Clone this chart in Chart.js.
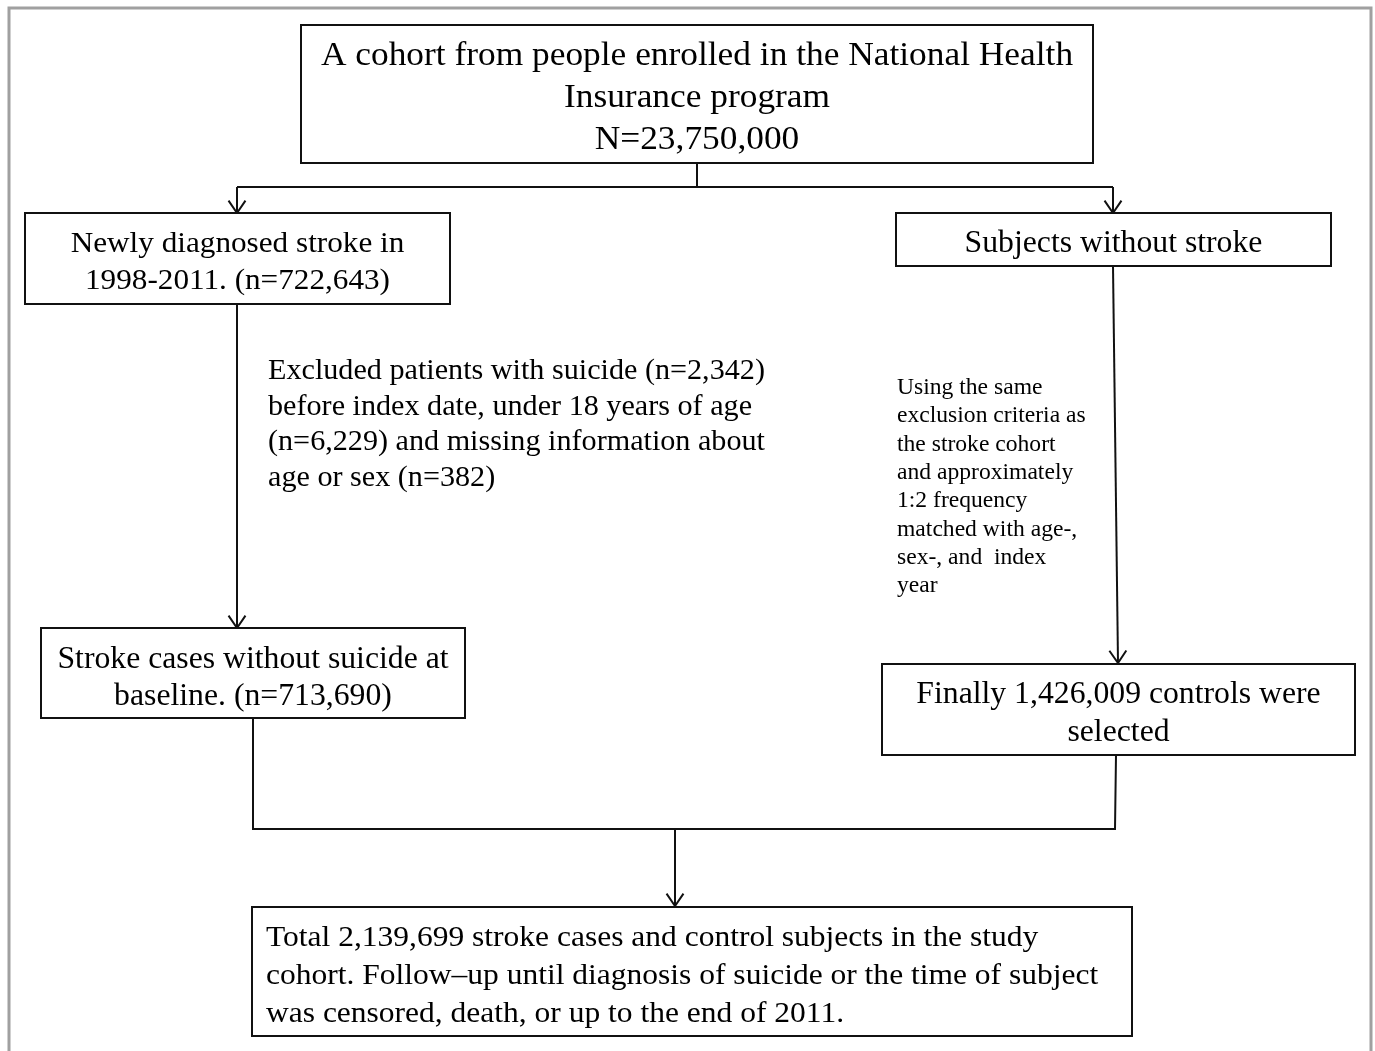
<!DOCTYPE html>
<html>
<head>
<meta charset="utf-8">
<script src="https://cdn.jsdelivr.net/npm/chart.js@4"></script>
<style>
  body { margin: 0; background: #fff; }
  #flow { display: block; }
</style>
</head>
<body>
<canvas id="flow" width="1375" height="1051"></canvas>
<script>
// texto de cada caja del diagrama
const topLines = ["A cohort from people enrolled in the National Health", "Insurance program", "N=23,750,000"];
const strokeLines = ["Newly diagnosed stroke in", "1998-2011. (n=722,643)"];
const noStrokeLines = ["Subjects without stroke"];
const excludeLines = [
  "Excluded patients with suicide (n=2,342)",
  "before index date, under 18 years of age",
  "(n=6,229) and missing information about",
  "age or sex (n=382)",
];
const matchLines = [
  "Using the same",
  "exclusion criteria as",
  "the stroke cohort",
  "and approximately",
  "1:2 frequency",
  "matched with age-,",
  "sex-, and  index",
  "year",
];
const casesLines = ["Stroke cases without suicide at", "baseline. (n=713,690)"];
const controlLines = ["Finally 1,426,009 controls were", "selected"];
const totalLines = [
  "Total 2,139,699 stroke cases and control subjects in the study",
  "cohort. Follow\u2013up until diagnosis of suicide or the time of subject",
  "was censored, death, or up to the end of 2011.",
];

const serif = '"Liberation Serif", "Times New Roman", serif';
const stretchX = 1.04; // el texto original sale algo ensanchado

// layout (coordenadas en unidades del eje, 1 unidad = 1 px); y = línea base de la 1a línea
const boxes = [
  { x0: 301, y0: 25, x1: 1093, y1: 163, lines: topLines, size: 34, align: "center", y: 65, gap: 42 },
  { x0: 25, y0: 213, x1: 450, y1: 304, lines: strokeLines, size: 30, align: "center", y: 252, gap: 37 },
  { x0: 896, y0: 213, x1: 1331, y1: 266, lines: noStrokeLines, size: 30.5, align: "center", y: 252, gap: 37 },
  { x0: 41, y0: 628, x1: 465, y1: 718, lines: casesLines, size: 30.5, align: "center", y: 668, gap: 37 },
  { x0: 882, y0: 664, x1: 1355, y1: 755, lines: controlLines, size: 30.5, align: "center", y: 703, gap: 38 },
  { x0: 252, y0: 907, x1: 1132, y1: 1036, lines: totalLines, size: 30.3, align: "left", tx: 266, y: 946, gap: 38 },
];
const notes = [
  { lines: excludeLines, size: 29, tx: 268, y: 379, gap: 35.7 },
  { lines: matchLines, size: 22.7, tx: 897, y: 394, gap: 28.3 },
];

function seg(points, arrow, color, width) {
  return {
    data: points.map((p) => ({ x: p[0], y: p[1] })),
    showLine: true,
    pointRadius: 0,
    borderColor: color || "#111",
    borderWidth: width || 2,
    arrow: !!arrow,
  };
}

const connectors = [
  seg([[9, 1051], [9, 8], [1371, 8], [1371, 1051]], false, "#a0a0a0", 3),
  seg([[697, 163], [697, 187]]),
  seg([[237, 187], [1113, 187]]),
  seg([[237, 187], [237, 213]], true),
  seg([[1113, 187], [1113, 213]], true),
  seg([[237, 304], [237, 628]], true),
  seg([[1113, 266], [1118, 663]], true),
  seg([[253, 718], [253, 829], [1115, 829], [1116, 755]]),
  seg([[675, 829], [675, 906]], true),
];

const flowPlugin = {
  id: "flowPlugin",
  afterDatasetsDraw(chart) {
    const ctx = chart.ctx;
    const sx = chart.scales.x;
    const sy = chart.scales.y;
    const px = (v) => sx.getPixelForValue(v);
    const py = (v) => sy.getPixelForValue(v);
    ctx.save();

    // puntas de flecha
    chart.data.datasets.forEach((ds) => {
      if (!ds.arrow) return;
      const n = ds.data.length;
      const a = ds.data[n - 2], b = ds.data[n - 1];
      const bx = px(b.x), by = py(b.y);
      const ang = Math.atan2(by - py(a.y), bx - px(a.x));
      const len = 15, spread = 0.6;
      ctx.strokeStyle = "#111";
      ctx.lineWidth = 2;
      ctx.beginPath();
      ctx.moveTo(bx - len * Math.cos(ang - spread), by - len * Math.sin(ang - spread));
      ctx.lineTo(bx, by);
      ctx.lineTo(bx - len * Math.cos(ang + spread), by - len * Math.sin(ang + spread));
      ctx.stroke();
    });

    // cajas
    boxes.forEach((b) => {
      ctx.fillStyle = "#fff";
      ctx.fillRect(px(b.x0), py(b.y0), px(b.x1) - px(b.x0), py(b.y1) - py(b.y0));
      ctx.strokeStyle = "#111";
      ctx.lineWidth = 2;
      ctx.strokeRect(px(b.x0), py(b.y0), px(b.x1) - px(b.x0), py(b.y1) - py(b.y0));
      drawLines(ctx, b, b.align === "center" ? px((b.x0 + b.x1) / 2) : px(b.tx), py);
    });
    notes.forEach((t) => drawLines(ctx, Object.assign({ align: "left" }, t), px(t.tx), py));
    ctx.restore();
  },
};

function drawLines(ctx, b, x, py) {
  ctx.font = b.size + "px " + serif;
  ctx.fillStyle = "#000";
  ctx.textAlign = b.align;
  ctx.textBaseline = "alphabetic";
  b.lines.forEach((line, i) => {
    ctx.save();
    ctx.translate(x, py(b.y + i * b.gap));
    ctx.scale(stretchX, 1);
    ctx.fillText(line, 0, 0);
    ctx.restore();
  });
}

new Chart(document.getElementById("flow"), {
  type: "scatter",
  data: { datasets: connectors },
  options: {
    responsive: false,
    animation: false,
    layout: { padding: 0 },
    plugins: { legend: { display: false }, tooltip: { enabled: false } },
    scales: {
      x: { type: "linear", min: 0, max: 1375, display: false },
      y: { type: "linear", min: 0, max: 1051, reverse: true, display: false },
    },
  },
  plugins: [flowPlugin],
});
</script>
</body>
</html>
